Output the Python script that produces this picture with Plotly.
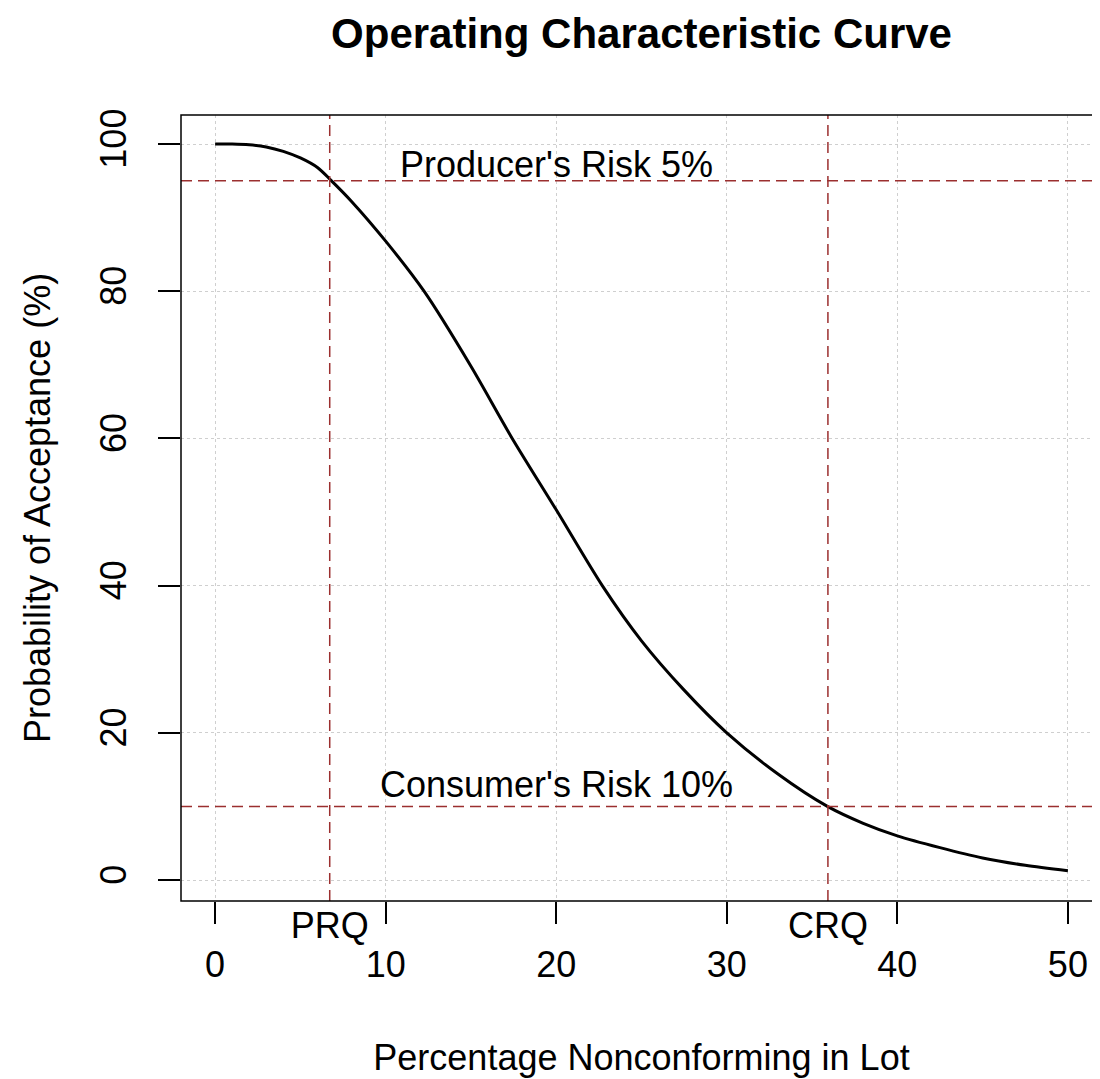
import plotly.graph_objects as go

# ---- data ----
pct_nonconforming = [0, 1, 2, 3, 4, 5, 6, 6.78, 8, 10, 12.25, 15, 17.42, 20,
                     22.7, 25, 27.5, 30, 33, 35.9, 38, 40, 42.5, 45, 47.5, 50]
prob_acceptance = [100, 100, 99.9, 99.6, 99.0, 98.1, 96.8, 95.1, 92.2, 86.8, 80, 69.8, 60,
                   50.3, 40, 32.5, 25.8, 20, 14.4, 10, 7.7, 6.0, 4.4, 3.0, 2.0, 1.26]

prq = 6.72              # producer's risk quality
crq = 35.93             # consumer's risk quality
producer_level = 95     # 100 - producer's risk 5%
consumer_level = 10     # consumer's risk 10%

x_ticks = [0, 10, 20, 30, 40, 50]
y_ticks = [0, 20, 40, 60, 80, 100]
quality_ticks = [prq, crq]
quality_labels = ["PRQ", "CRQ"]

FONT = "Liberation Sans, Arial, sans-serif"
RED = "#9b2f2f"

fig = go.Figure()

fig.add_trace(go.Scatter(
    x=pct_nonconforming, y=prob_acceptance, mode="lines",
    line=dict(color="black", width=3, shape="spline", smoothing=0.8),
    showlegend=False, hoverinfo="skip"))

# invisible trace to bind the secondary (PRQ/CRQ) axis
fig.add_trace(go.Scatter(x=quality_ticks, y=[None, None], xaxis="x2",
                         mode="markers", showlegend=False, hoverinfo="skip"))

# reference lines
for lvl in (producer_level, consumer_level):
    fig.add_shape(type="line", xref="paper", yref="y", x0=0, x1=1, y0=lvl, y1=lvl,
                  line=dict(color=RED, width=1.5, dash="11px,6px"))
for q in (prq, crq):
    fig.add_shape(type="line", xref="x", yref="paper", x0=q, x1=q, y0=0, y1=1,
                  line=dict(color=RED, width=1.5, dash="11px,6px"))

# plot frame
fig.add_shape(type="rect", xref="paper", yref="paper", x0=0, x1=1, y0=0, y1=1,
              line=dict(color="black", width=1.5), layer="above")

fig.add_annotation(x=20, y=producer_level, xref="x", yref="y",
                   text="Producer's Risk 5%", showarrow=False,
                   yanchor="middle", yshift=16,
                   font=dict(family=FONT, size=36, color="black"))
fig.add_annotation(x=20, y=consumer_level, xref="x", yref="y",
                   text="Consumer's Risk 10%", showarrow=False,
                   yanchor="middle", yshift=22,
                   font=dict(family=FONT, size=36, color="black"))

fig.update_layout(
    width=1100, height=1079,
    margin=dict(l=173, r=6, t=107, b=186, autoexpand=False),
    paper_bgcolor="white", plot_bgcolor="white",
    font=dict(family=FONT, size=36, color="black"),
    title=dict(text="<b>Operating Characteristic Curve</b>", x=0.5, xref="paper",
               xanchor="center", y=1 - 25 / 1079, yanchor="middle", yref="container",
               font=dict(family=FONT, size=42, color="black")),
    xaxis=dict(range=[-2, 52], tickvals=x_ticks, ticks="outside", ticklen=22,
               tickwidth=1.5, tickcolor="black", showline=False, zeroline=False,
               showgrid=True, gridcolor="#cfcfcf", griddash="dot", gridwidth=1.3,
               ticklabelstandoff=10, tickfont=dict(size=36), automargin=False,
               title=dict(text="Percentage Nonconforming in Lot", standoff=60,
                          font=dict(size=36))),
    xaxis2=dict(overlaying="x", matches="x", side="bottom", tickvals=quality_ticks,
                ticktext=quality_labels, ticks="", showgrid=False, zeroline=False,
                showline=False, tickfont=dict(size=36), ticklabelstandoff=0,
                automargin=False),
    yaxis=dict(range=[-2.85, 103.94], tickvals=y_ticks, ticks="outside", ticklen=22,
               tickwidth=1.5, tickcolor="black", showline=False, zeroline=False,
               showgrid=True, gridcolor="#cfcfcf", griddash="dot", gridwidth=1.3,
               tickangle=-90, ticklabelstandoff=18, tickfont=dict(size=36),
               automargin=False,
               title=dict(text="Probability of Acceptance (%)", standoff=30,
                          font=dict(size=36))),
)

fig.write_html("out.html")
